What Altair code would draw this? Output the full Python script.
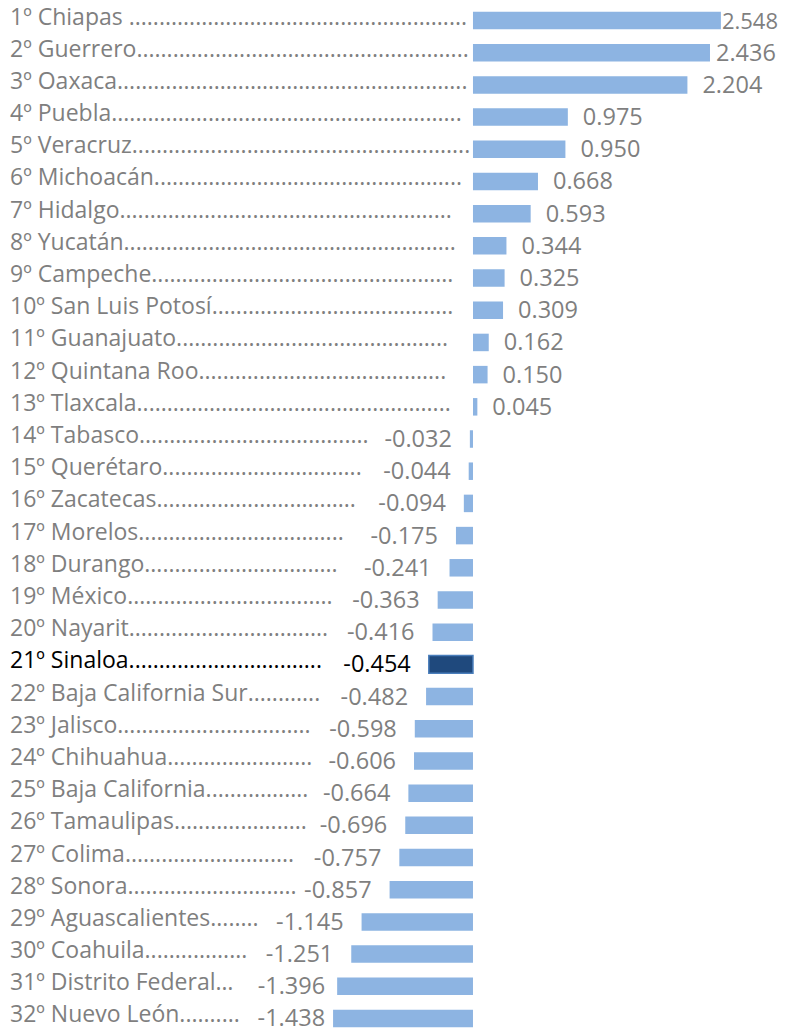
import altair as alt
import pandas as pd

ranks = list(range(1, 33))
labels = [
    "1º Chiapas " + "." * 56,
    "2º Guerrero" + "." * 55,
    "3º Oaxaca" + "." * 58,
    "4º Puebla" + "." * 58,
    "5º Veracruz" + "." * 56,
    "6º Michoacán" + "." * 51,
    "7º Hidalgo" + "." * 55,
    "8º Yucatán" + "." * 55,
    "9º Campeche" + "." * 50,
    "10º San Luis Potosí" + "." * 40,
    "11º Guanajuato" + "." * 45,
    "12º Quintana Roo" + "." * 41,
    "13º Tlaxcala" + "." * 52,
    "14º Tabasco" + "." * 38,
    "15º Querétaro" + "." * 33,
    "16º Zacatecas" + "." * 33,
    "17º Morelos" + "." * 34,
    "18º Durango" + "." * 32,
    "19º México" + "." * 34,
    "20º Nayarit" + "." * 33,
    "21º Sinaloa" + "." * 32,
    "22º Baja California Sur" + "." * 12,
    "23º Jalisco" + "." * 32,
    "24º Chihuahua" + "." * 24,
    "25º Baja California" + "." * 17,
    "26º Tamaulipas" + "." * 22,
    "27º Colima" + "." * 28,
    "28º Sonora" + "." * 28,
    "29º Aguascalientes" + "." * 8,
    "30º Coahuila" + "." * 17,
    "31º Distrito Federal…",
    "32º Nuevo León" + "." * 10,
]
values = [2.548, 2.436, 2.204, 0.975, 0.950, 0.668, 0.593, 0.344, 0.325, 0.309,
          0.162, 0.150, 0.045, -0.032, -0.044, -0.094, -0.175, -0.241, -0.363,
          -0.416, -0.454, -0.482, -0.598, -0.606, -0.664, -0.696, -0.757,
          -0.857, -1.145, -1.251, -1.396, -1.438]
highlight = ["y" if r == 21 else "n" for r in ranks]

df = pd.DataFrame({
    "rank": ranks, "label": labels, "value": values, "hl": highlight,
    "vtext": [f"{v:.3f}" for v in values],
})

FONT = "Open Sans"
GRAY = "#7f7f7f"

base = alt.Chart(df)
y = alt.Y("rank:O", axis=None,
          scale=alt.Scale(paddingInner=0.456, paddingOuter=0.1165))
xq = alt.X("value:Q", axis=None,
           scale=alt.Scale(domain=[-4.779, 3.135], nice=False))
txt_color = alt.condition(alt.datum.hl == "y", alt.value("#000000"), alt.value(GRAY))

bars = base.mark_bar(strokeWidth=1.5).encode(
    x=xq, y=y,
    color=alt.Color("hl:N", scale=alt.Scale(domain=["n", "y"], range=["#8db4e2", "#1f497d"]), legend=None),
    stroke=alt.condition(alt.datum.hl == "y", alt.value("#4a7ebb"), alt.value("transparent")),
)

cats = base.mark_text(align="left", baseline="alphabetic", dy=4, font=FONT, fontSize=23).encode(
    x=alt.value(2), y=y, text="label:N", color=txt_color
)

def vlabels(filt, align, dx, size=23.5):
    return base.transform_filter(filt).mark_text(
        align=align, baseline="alphabetic", dx=dx, dy=8, font=FONT, fontSize=size
    ).encode(x=xq, y=y, text="vtext:N", color=txt_color)

layers = [
    bars, cats,
    vlabels("datum.rank == 1", "left", 1, 22),
    vlabels("datum.rank == 2", "left", 6),
    vlabels("datum.value > 0 && datum.rank > 2", "left", 15),
    vlabels("datum.value < 0 && datum.rank <= 30", "right", -18),
    vlabels("datum.rank == 31", "right", -12),
    vlabels("datum.rank == 32", "right", -8),
]

chart = alt.layer(*layers).properties(
    width=770, height=1023,
    autosize=alt.AutoSizeParams(type="none"),
    padding=0,
).configure_view(stroke=None)

chart.save("out.html", embed_options={"renderer": "svg", "actions": False})
